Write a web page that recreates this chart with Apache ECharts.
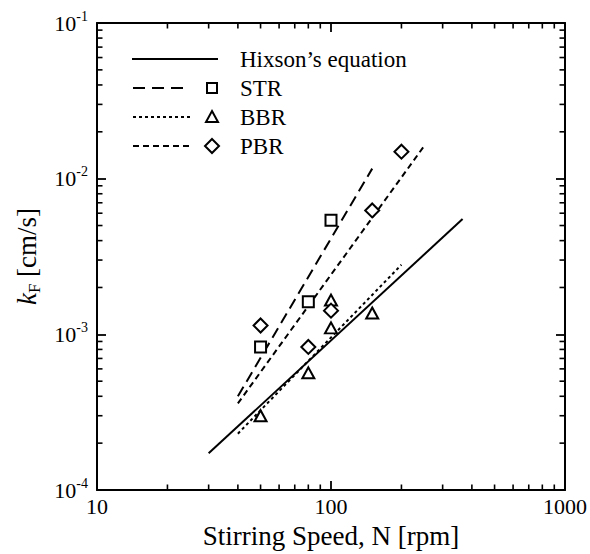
<!DOCTYPE html>
<html><head><meta charset="utf-8">
<script src="https://cdn.jsdelivr.net/npm/echarts@6/dist/echarts.min.js"></script>
<style>html,body{margin:0;padding:0;background:#fff}#c{width:590px;height:554px}</style>
</head><body><div id="c"></div>
<script>
// ---- data ----
const xRange = [10, 1000];
const yRange = [1e-4, 1e-1];
const xMinorTicks = [20, 30, 40, 50, 60, 70, 80, 90, 200, 300, 400, 500, 600, 700, 800, 900];
const yMinorTicks = [0.0002, 0.0003, 0.0004, 0.0005, 0.0006, 0.0007, 0.0008, 0.0009,
  0.002, 0.003, 0.004, 0.005, 0.006, 0.007, 0.008, 0.009,
  0.02, 0.03, 0.04, 0.05, 0.06, 0.07, 0.08, 0.09];

const hixsonN = [30, 365];
const hixsonK = [1.72e-4, 5.5e-3];

const strN = [50, 80, 100];
const strK = [8.3e-4, 1.62e-3, 5.4e-3];
const strFitN = [40, 150];
const strFitK = [4.0e-4, 1.16e-2];

const bbrN = [50, 80, 100, 100, 150];
const bbrK = [3.0e-4, 5.66e-4, 1.10e-3, 1.66e-3, 1.37e-3];
const bbrFitN = [40, 200];
const bbrFitK = [2.3e-4, 2.8e-3];

const pbrN = [50, 80, 100, 150, 200];
const pbrK = [1.14e-3, 8.3e-4, 1.42e-3, 6.25e-3, 1.49e-2];
const pbrFitN = [40, 250];
const pbrFitK = [3.6e-4, 1.62e-2];

// ---- chart ----
const FONT = "'Liberation Serif', serif";
const pairs = (a, b) => a.map((v, i) => [v, b[i]]);
const chart = echarts.init(document.getElementById('c'), null, {renderer: 'svg'});

const MAJOR = 9, MINOR = 5.5;
function minorTick(side) {
  return function (params, api) {
    let p, shape;
    if (side === 'bottom' || side === 'top') {
      const v = api.value(0);
      p = api.coord([v, side === 'bottom' ? yRange[0] : yRange[1]]);
      const d = side === 'bottom' ? -MINOR : MINOR;
      shape = {x1: p[0], y1: p[1], x2: p[0], y2: p[1] + d};
    } else {
      const v = api.value(1);
      p = api.coord([side === 'left' ? xRange[0] : xRange[1], v]);
      const d = side === 'left' ? MINOR : -MINOR;
      shape = {x1: p[0], y1: p[1], x2: p[0] + d, y2: p[1]};
    }
    return {type: 'line', shape: shape, style: {stroke: '#000', lineWidth: 1.6}};
  };
}
function axisLine() { return {show: true, lineStyle: {color: '#000', width: 2}}; }
function axisTick() { return {show: true, inside: true, length: MAJOR, lineStyle: {color: '#000', width: 1.8}}; }
const markerStyle = () => ({color: '#fff', borderColor: '#000', borderWidth: 2, opacity: 1});

const option = {
  backgroundColor: '#fff',
  animation: false,
  grid: {left: 97, right: 24, top: 23, bottom: 61},
  xAxis: [{
    type: 'log', logBase: 10, min: xRange[0], max: xRange[1],
    axisLine: axisLine(), axisTick: axisTick(), splitLine: {show: false},
    axisLabel: {show: true, margin: 5, color: '#000', fontSize: 22, fontFamily: FONT,
      showMinLabel: true, showMaxLabel: true, formatter: v => String(Math.round(v))},
    name: 'Stirring Speed, N [rpm]', nameLocation: 'middle', nameGap: 32,
    nameTextStyle: {color: '#000', fontSize: 27, fontFamily: FONT}
  }, {
    type: 'log', logBase: 10, min: xRange[0], max: xRange[1], position: 'top',
    axisLine: axisLine(), axisTick: axisTick(), splitLine: {show: false},
    axisLabel: {show: false}
  }],
  yAxis: [{
    type: 'log', logBase: 10, min: yRange[0], max: yRange[1],
    axisLine: axisLine(), axisTick: axisTick(), splitLine: {show: false},
    axisLabel: {show: true, margin: 9, color: '#000', showMinLabel: true, showMaxLabel: true,
      formatter: v => '{b|10}{s|' + Math.round(Math.log10(v)) + '}',
      rich: {
        b: {fontSize: 22, fontFamily: FONT, color: '#000', lineHeight: 28},
        s: {fontSize: 14, fontFamily: FONT, color: '#000', verticalAlign: 'top', lineHeight: 16}
      }},
    name: '{k|k}{f|F}{n| [cm/s]}', nameLocation: 'middle', nameGap: 37,
    nameTextStyle: {
      rich: {
        k: {fontSize: 27, fontStyle: 'italic', fontFamily: FONT, color: '#000', lineHeight: 32},
        f: {fontSize: 17, fontFamily: FONT, color: '#000', verticalAlign: 'bottom', lineHeight: 22},
        n: {fontSize: 27, fontFamily: FONT, color: '#000', lineHeight: 32}
      }
    }
  }, {
    type: 'log', logBase: 10, min: yRange[0], max: yRange[1], position: 'right',
    axisLine: axisLine(), axisTick: axisTick(), splitLine: {show: false},
    axisLabel: {show: false}
  }],
  series: [
    {type: 'custom', data: xMinorTicks.map(v => [v, yRange[0]]), renderItem: minorTick('bottom'), silent: true, z: 1},
    {type: 'custom', data: xMinorTicks.map(v => [v, yRange[1]]), renderItem: minorTick('top'), silent: true, z: 1},
    {type: 'custom', data: yMinorTicks.map(v => [xRange[0], v]), renderItem: minorTick('left'), silent: true, z: 1},
    {type: 'custom', data: yMinorTicks.map(v => [xRange[1], v]), renderItem: minorTick('right'), silent: true, z: 1},
    {type: 'line', name: 'Hixson', data: pairs(hixsonN, hixsonK), symbol: 'none',
      lineStyle: {color: '#000', width: 2, type: 'solid'}, z: 2},
    {type: 'line', name: 'STR fit', data: pairs(strFitN, strFitK), symbol: 'none',
      lineStyle: {color: '#000', width: 2, type: [11, 6]}, z: 2},
    {type: 'line', name: 'BBR fit', data: pairs(bbrFitN, bbrFitK), symbol: 'none',
      lineStyle: {color: '#000', width: 2, type: [3, 3]}, z: 2},
    {type: 'line', name: 'PBR fit', data: pairs(pbrFitN, pbrFitK), symbol: 'none',
      lineStyle: {color: '#000', width: 2, type: [6, 4]}, z: 2},
    {type: 'scatter', name: 'STR', data: pairs(strN, strK), symbol: 'rect', symbolSize: 11,
      itemStyle: markerStyle(), z: 3},
    {type: 'scatter', name: 'BBR', data: pairs(bbrN, bbrK), symbol: 'triangle', symbolSize: [12, 11],
      itemStyle: markerStyle(), z: 3},
    {type: 'scatter', name: 'PBR', data: pairs(pbrN, pbrK), symbol: 'diamond', symbolSize: 14,
      itemStyle: markerStyle(), z: 3}
  ],
  graphic: [
    {type: 'line', shape: {x1: 132, y1: 59, x2: 218, y2: 59}, style: {stroke: '#000', lineWidth: 2}},
    {type: 'text', x: 240, y: 59, style: {text: 'Hixson\u2019s equation', fontSize: 23, fontFamily: FONT, fill: '#000', verticalAlign: 'middle'}},
    {type: 'line', shape: {x1: 133, y1: 88, x2: 190, y2: 88}, style: {stroke: '#000', lineWidth: 2, lineDash: [12, 7]}},
    {type: 'rect', shape: {x: 207, y: 83, width: 10, height: 10}, style: {fill: '#fff', stroke: '#000', lineWidth: 2}},
    {type: 'text', x: 240, y: 88, style: {text: 'STR', fontSize: 23, fontFamily: FONT, fill: '#000', verticalAlign: 'middle'}},
    {type: 'line', shape: {x1: 133, y1: 117, x2: 190, y2: 117}, style: {stroke: '#000', lineWidth: 2, lineDash: [3, 3]}},
    {type: 'polygon', shape: {points: [[212, 111], [218, 122], [206, 122]]}, style: {fill: '#fff', stroke: '#000', lineWidth: 2}},
    {type: 'text', x: 240, y: 117, style: {text: 'BBR', fontSize: 23, fontFamily: FONT, fill: '#000', verticalAlign: 'middle'}},
    {type: 'line', shape: {x1: 133, y1: 146, x2: 190, y2: 146}, style: {stroke: '#000', lineWidth: 2, lineDash: [6, 4]}},
    {type: 'polygon', shape: {points: [[212, 139], [219, 146], [212, 153], [205, 146]]}, style: {fill: '#fff', stroke: '#000', lineWidth: 2}},
    {type: 'text', x: 240, y: 146, style: {text: 'PBR', fontSize: 23, fontFamily: FONT, fill: '#000', verticalAlign: 'middle'}}
  ]
};
chart.setOption(option);
</script>
</body></html>
